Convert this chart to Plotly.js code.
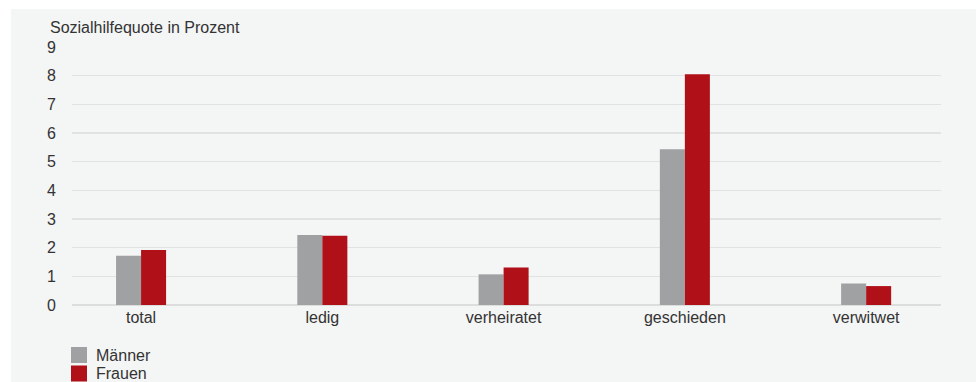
<!DOCTYPE html>
<html>
<head>
<meta charset="utf-8">
<script src="https://cdn.plot.ly/plotly-3.0.1.min.js"></script>
<style>
html,body{margin:0;padding:0;background:#ffffff;width:976px;height:382px;overflow:hidden;}
#chart{position:absolute;left:11px;top:9px;width:965px;height:373px;}
</style>
</head>
<body>
<div id="chart"></div>
<script>
const categories = ["total", "ledig", "verheiratet", "geschieden", "verwitwet"];
const maenner = [1.72, 2.44, 1.07, 5.43, 0.75];
const frauen = [1.92, 2.42, 1.31, 8.05, 0.66];
const seriesNames = ["Männer", "Frauen"];
const seriesColors = ["#a0a1a3", "#b01118"];
const yTicks = [0, 1, 2, 3, 4, 5, 6, 7, 8, 9];

const FONT = "Liberation Sans, Arial, sans-serif";
const TXT = "#333333";

const traces = [
  {type: "bar", name: seriesNames[0], x: categories, y: maenner, marker: {color: seriesColors[0]}},
  {type: "bar", name: seriesNames[1], x: categories, y: frauen, marker: {color: seriesColors[1]}}
];

// plot area: left 72px, width 869px; bottom 305px, height 258px (page pixels)
const px = a => (a - 72) / 869;
const py = a => (305 - a) / 258;
const shapes = [], annotations = [];
seriesNames.forEach((name, i) => {
  const top = 347 + i * 18.5;
  shapes.push({type: "rect", xref: "paper", yref: "paper",
    x0: px(71), x1: px(87), y0: py(top), y1: py(top + 16),
    fillcolor: seriesColors[i], line: {width: 0}});
  annotations.push({xref: "paper", yref: "paper", x: px(94), y: py(top + 8),
    xanchor: "left", yanchor: "middle", showarrow: false, text: name,
    font: {family: FONT, size: 16, color: TXT}});
});

const layout = {
  width: 965, height: 373,
  paper_bgcolor: "#f4f5f5",
  plot_bgcolor: "rgba(0,0,0,0)",
  font: {family: FONT, size: 16, color: TXT},
  margin: {l: 61, r: 35, t: 38, b: 77, pad: 0, autoexpand: false},
  barmode: "group",
  bargap: 0.724,
  bargroupgap: 0,
  title: {
    text: "Sozialhilfequote in Prozent",
    font: {family: FONT, size: 16, color: TXT},
    xref: "container", x: 0.0404, xanchor: "left",
    yref: "container", y: 0.952, yanchor: "middle"
  },
  xaxis: {
    type: "category",
    range: [-0.381, 4.413],
    showgrid: false, zeroline: false, showline: false,
    ticks: "", tickfont: {size: 16, color: TXT},
    ticklabelstandoff: 1,
    fixedrange: true
  },
  yaxis: {
    range: [0, 9],
    tickvals: yTicks,
    showgrid: true, gridcolor: "#e1e2e2", gridwidth: 1.5,
    zeroline: true, zerolinecolor: "#dcdddd", zerolinewidth: 2,
    showline: false, ticks: "",
    ticklabelstandoff: 15,
    tickfont: {size: 16, color: TXT},
    fixedrange: true
  },
  shapes: shapes,
  annotations: annotations,
  showlegend: false
};

Plotly.newPlot("chart", traces, layout, {displayModeBar: false, staticPlot: true});
</script>
</body>
</html>
